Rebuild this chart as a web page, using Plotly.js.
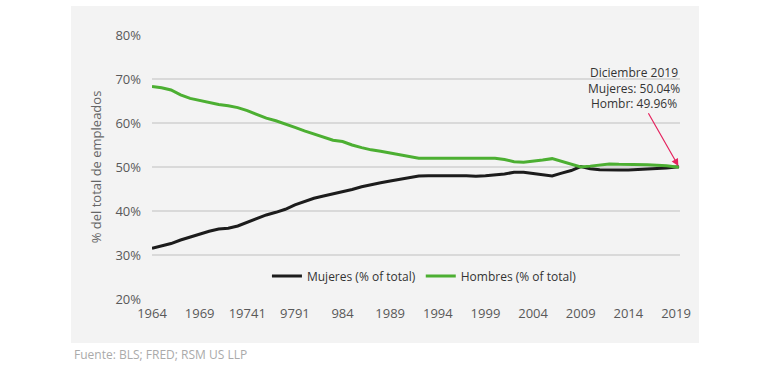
<!DOCTYPE html>
<html>
<head>
<meta charset="utf-8">
<script src="https://cdn.plot.ly/plotly-3.0.1.min.js"></script>
<style>
  html, body { margin: 0; padding: 0; background: #ffffff; }
  #wrap { position: relative; width: 770px; height: 367px; }
  #panel { position: absolute; left: 71px; top: 6px; width: 628px; height: 337px; background: #f3f3f3; }
  #chart { position: absolute; left: 0; top: 0; width: 770px; height: 367px; }
</style>
</head>
<body>
<div id="wrap">
  <div id="panel"></div>
  <div id="chart"></div>
</div>
<script>
// Years (decimal position of each reading; last point = December 2019)
const years = [1964,1965,1966,1967,1968,1969,1970,1971,1972,1973,1974,1975,1976,1977,1978,1979,
  1980,1981,1982,1983,1984,1985,1986,1987,1988,1989,1990,1991,1992,1993,1994,1995,1996,1997,1998,1999,
  2000,2001,2002,2003,2004,2005,2006,2007,2008,2009,2010,2011,2012,2013,2014,2015,2016,2017,2018,2019.3];

const mujeres = [31.5,32.0,32.6,33.4,34.1,34.8,35.4,35.9,36.1,36.6,37.4,38.3,39.1,39.7,40.4,41.4,
  42.2,42.9,43.4,43.9,44.3,44.9,45.5,46.0,46.4,46.8,47.2,47.6,47.95,48.0,47.95,47.9,48.0,48.0,47.9,48.0,
  48.2,48.4,48.8,48.8,48.5,48.3,47.95,48.6,49.2,50.1,49.6,49.4,49.3,49.3,49.3,49.4,49.5,49.6,49.8,50.04];

const hombres = [68.3,68.0,67.5,66.4,65.6,65.1,64.6,64.2,63.9,63.5,62.8,62.0,61.1,60.5,59.8,59.0,
  58.2,57.5,56.9,56.1,55.8,55.0,54.4,53.9,53.6,53.2,52.8,52.3,52.0,52.0,52.0,52.0,52.0,52.0,52.1,52.0,
  52.0,51.7,51.2,51.1,51.3,51.6,51.9,51.3,50.7,50.0,50.2,50.5,50.7,50.6,50.6,50.6,50.5,50.4,50.3,49.96];

const tickYears = [1964,1969,1974,1979,1984,1989,1994,1999,2004,2009,2014,2019];
const tickLabels = ["1964","1969","19741","9791","984","1989","1994","1999","2004","2009","2014","2019"];
const yTicks = [20,30,40,50,60,70,80];
const yTickLabels = ["20%","30%","40%","50%","60%","70%","80%"];

const seriesNames = ["Mujeres (% of total)", "Hombres (% of total)"];
const annotationText = "Diciembre 2019<br>Mujeres: 50.04%<br>Hombr: 49.96%";
const sourceText = "Fuente: BLS; FRED; RSM US LLP";
const yTitle = "% del total de empleados";

const traces = [
  { x: years, y: mujeres, name: seriesNames[0], type: 'scatter', mode: 'lines',
    line: { color: '#1c1c1c', width: 3 } },
  { x: years, y: hombres, name: seriesNames[1], type: 'scatter', mode: 'lines',
    line: { color: '#4caf32', width: 3 } }
];

const layout = {
  width: 770, height: 367,
  margin: { l: 152, r: 90, t: 35, b: 68 },
  paper_bgcolor: 'rgba(0,0,0,0)',
  plot_bgcolor: 'rgba(0,0,0,0)',
  font: { family: 'Open Sans, sans-serif', size: 13, color: '#595959' },
  showlegend: true,
  legend: { orientation: 'h', x: 0.516, xanchor: 'center', y: 0.087, yanchor: 'middle',
    font: { size: 12, color: '#333333' }, bgcolor: 'rgba(0,0,0,0)', itemwidth: 30 },
  xaxis: {
    range: [1964, 2019.42], tickmode: 'array', tickvals: tickYears, ticktext: tickLabels,
    showgrid: false, zeroline: false, showline: false, ticks: '', ticklabelstandoff: 5,
    tickfont: { size: 13, color: '#595959' }, fixedrange: true
  },
  yaxis: {
    range: [20, 80], tickmode: 'array', tickvals: yTicks, ticktext: yTickLabels,
    showgrid: true, gridcolor: '#d9d9d9', gridwidth: 1.5, zeroline: false, showline: false, ticks: '',
    ticklabelstandoff: 10,
    tickfont: { size: 13, color: '#595959' },
    title: { text: yTitle, font: { size: 13, color: '#666666' }, standoff: 10 },
    fixedrange: true
  },
  annotations: [
    { x: years[years.length - 1], y: mujeres[mujeres.length - 1], xref: 'x', yref: 'y',
      text: annotationText, showarrow: true, arrowhead: 2, arrowsize: 1.2, arrowwidth: 1.2,
      arrowcolor: '#e5245f', ax: -45, ay: -79, standoff: 1,
      font: { size: 12, color: '#333333' }, align: 'center' },
    { x: -0.1515, y: -0.212, xref: 'paper', yref: 'paper', xanchor: 'left', yanchor: 'middle',
      text: sourceText, showarrow: false, font: { size: 12, color: '#aaaaaa' } }
  ]
};

Plotly.newPlot('chart', traces, layout, { displayModeBar: false, staticPlot: true });
</script>
</body>
</html>
